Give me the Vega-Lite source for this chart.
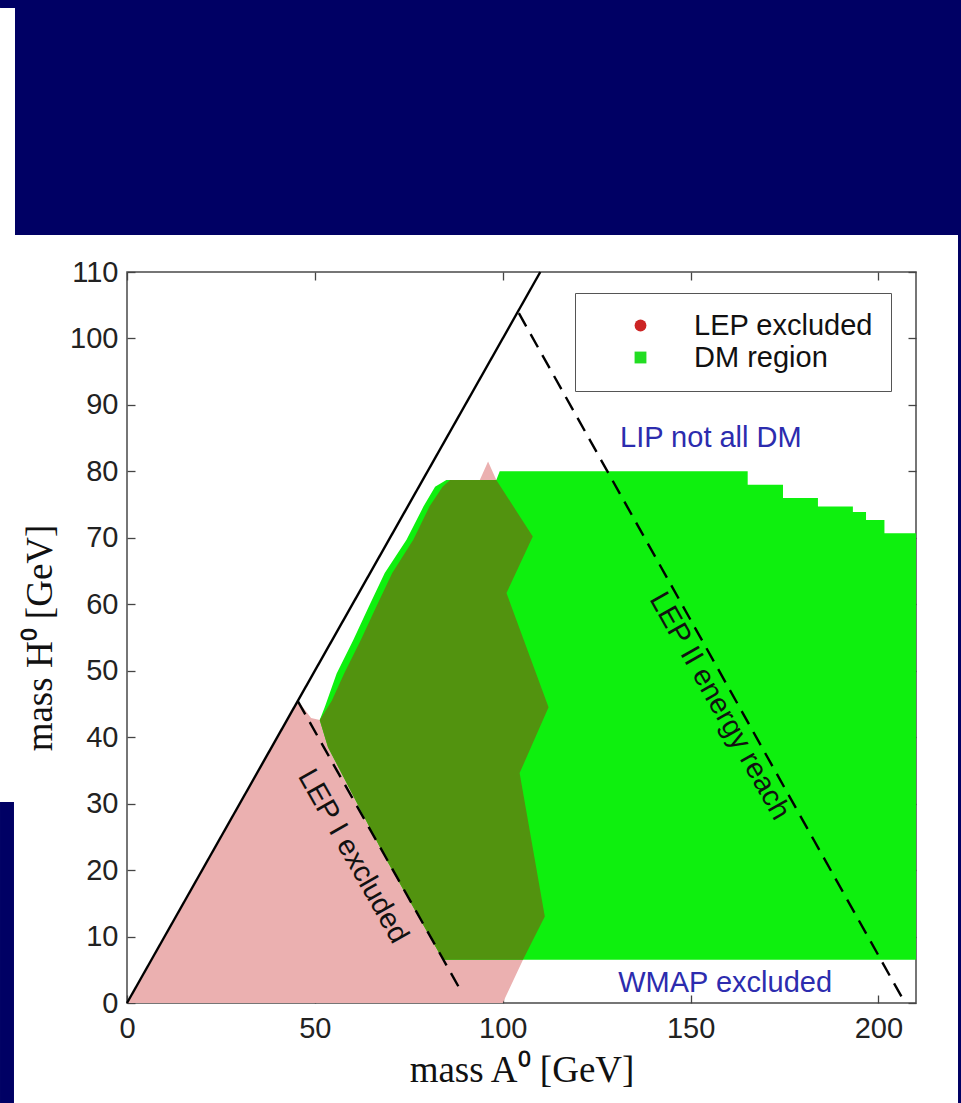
{
  "$schema": "https://vega.github.io/schema/vega-lite/v6.json",
  "width": 789,
  "height": 731,
  "autosize": {"type": "none"},
  "padding": {"left": 127, "top": 272, "right": 45, "bottom": 100},
  "background": "white",
  "config": {
    "view": {"stroke": "#4a4a4a", "strokeWidth": 1.5},
    "font": "Liberation Sans",
    "axis": {
      "domain": false,
      "grid": false,
      "tickSize": -8,
      "tickColor": "#444444",
      "tickWidth": 1.3,
      "labelFlush": false,
      "labelFont": "Liberation Sans",
      "labelFontSize": 29,
      "labelColor": "#222222",
      "titleFont": "Liberation Serif",
      "titleFontSize": 37,
      "titleFontWeight": "normal",
      "titleColor": "#111111"
    }
  },
  "datasets": {
    "frame": [
      {"x1": -29.81, "x2": 221.98, "y1": 115.57, "y2": 150.93},
      {"x1": -33.8, "x2": -29.81, "y1": 149.73, "y2": 150.93},
      {"x1": 221.18, "x2": 221.98, "y1": -15.05, "y2": 115.57},
      {"x1": -33.8, "x2": -30.08, "y1": -15.05, "y2": 30.25}
    ],
    "lep": [
      {"i": 1, "x": 0, "y": 0},
      {"i": 2, "x": 45.5, "y": 45.5},
      {"i": 3, "x": 49, "y": 42.9},
      {"i": 4, "x": 51.3, "y": 42.6},
      {"i": 5, "x": 54.5, "y": 45.5},
      {"i": 6, "x": 57.8, "y": 49.6},
      {"i": 7, "x": 62.2, "y": 54.6},
      {"i": 8, "x": 66.4, "y": 59.7},
      {"i": 9, "x": 70.6, "y": 64.7},
      {"i": 10, "x": 76.2, "y": 69.7},
      {"i": 11, "x": 80.5, "y": 74.7},
      {"i": 12, "x": 84, "y": 77.7},
      {"i": 13, "x": 86, "y": 78.7},
      {"i": 14, "x": 93.9, "y": 78.7},
      {"i": 15, "x": 96.1, "y": 81.5},
      {"i": 16, "x": 98.3, "y": 78.7},
      {"i": 17, "x": 108, "y": 70.2},
      {"i": 18, "x": 101, "y": 61.7},
      {"i": 19, "x": 112.2, "y": 44.5},
      {"i": 20, "x": 104.5, "y": 34.6},
      {"i": 21, "x": 111.2, "y": 13},
      {"i": 22, "x": 105.4, "y": 6.5},
      {"i": 23, "x": 100, "y": 0}
    ],
    "dm": [
      {"i": 1, "x": 84.1, "y": 6.5},
      {"i": 2, "x": 69.1, "y": 21.5},
      {"i": 3, "x": 53.5, "y": 38.5},
      {"i": 4, "x": 51.3, "y": 42.6},
      {"i": 5, "x": 52.7, "y": 44.6},
      {"i": 6, "x": 55.8, "y": 49.6},
      {"i": 7, "x": 60.2, "y": 54.6},
      {"i": 8, "x": 64.4, "y": 59.7},
      {"i": 9, "x": 68.6, "y": 64.7},
      {"i": 10, "x": 74.4, "y": 69.7},
      {"i": 11, "x": 78.9, "y": 74.7},
      {"i": 12, "x": 82, "y": 77.7},
      {"i": 13, "x": 85, "y": 78.7},
      {"i": 14, "x": 98.3, "y": 78.7},
      {"i": 15, "x": 99.2, "y": 80},
      {"i": 16, "x": 165.2, "y": 80},
      {"i": 17, "x": 165.2, "y": 78},
      {"i": 18, "x": 174.6, "y": 78},
      {"i": 19, "x": 174.6, "y": 76},
      {"i": 20, "x": 183.9, "y": 76},
      {"i": 21, "x": 183.9, "y": 74.7},
      {"i": 22, "x": 193.2, "y": 74.7},
      {"i": 23, "x": 193.2, "y": 73.9},
      {"i": 24, "x": 196.7, "y": 73.9},
      {"i": 25, "x": 196.7, "y": 72.7},
      {"i": 26, "x": 201.6, "y": 72.7},
      {"i": 27, "x": 201.6, "y": 70.7},
      {"i": 28, "x": 210, "y": 70.7},
      {"i": 29, "x": 210, "y": 6.5}
    ],
    "overlap": [
      {"i": 1, "x": 84.1, "y": 6.5},
      {"i": 2, "x": 69.1, "y": 21.5},
      {"i": 3, "x": 53.5, "y": 38.5},
      {"i": 4, "x": 51.3, "y": 42.6},
      {"i": 5, "x": 54.5, "y": 45.5},
      {"i": 6, "x": 57.8, "y": 49.6},
      {"i": 7, "x": 62.2, "y": 54.6},
      {"i": 8, "x": 66.4, "y": 59.7},
      {"i": 9, "x": 70.6, "y": 64.7},
      {"i": 10, "x": 76.2, "y": 69.7},
      {"i": 11, "x": 80.5, "y": 74.7},
      {"i": 12, "x": 84, "y": 77.7},
      {"i": 13, "x": 86, "y": 78.7},
      {"i": 14, "x": 98.3, "y": 78.7},
      {"i": 15, "x": 108, "y": 70.2},
      {"i": 16, "x": 101, "y": 61.7},
      {"i": 17, "x": 112.2, "y": 44.5},
      {"i": 18, "x": 104.5, "y": 34.6},
      {"i": 19, "x": 111.2, "y": 13},
      {"i": 20, "x": 105.4, "y": 6.5}
    ],
    "solid": [
      {"x": 0, "y": 0},
      {"x": 110, "y": 110}
    ],
    "dashed": [
      {"name": "LEP I", "x": 45.5, "y": 45.4},
      {"name": "LEP I", "x": 88.6, "y": 2.1},
      {"name": "LEP II", "x": 104.3, "y": 103.8},
      {"name": "LEP II", "x": 206.4, "y": 0.7}
    ],
    "bluetext": [
      {"t": "LIP not all DM", "x": 155.4, "y": 85.0},
      {"t": "WMAP excluded", "x": 159.2, "y": 3.0}
    ],
    "rottext": [
      {"t": "LEP I excluded", "x": 60.2, "y": 22.1},
      {"t": "LEP II energy reach", "x": 157.8, "y": 44.7}
    ],
    "legend": [
      {"region": "LEP excluded"},
      {"region": "DM region"}
    ]
  },
  "layer": [
    {
      "data": {"name": "lep"},
      "mark": {"type": "line", "fill": "#ebb0b0", "strokeOpacity": 0, "interpolate": "linear"},
      "encoding": {
        "x": {"field": "x", "type": "quantitative", "scale": {"domain": [0, 210], "nice": false, "zero": false},
          "axis": {"orient": "bottom", "values": [0, 50, 100, 150, 200], "title": "mass A⁰ [GeV]", "labelPadding": 19, "titlePadding": 9}},
        "y": {"field": "y", "type": "quantitative", "scale": {"domain": [0, 110], "nice": false, "zero": false},
          "axis": {"orient": "left", "values": [0, 10, 20, 30, 40, 50, 60, 70, 80, 90, 100, 110], "title": "mass H⁰ [GeV]", "labelPadding": 17, "titlePadding": 10}},
        "order": {"field": "i", "type": "quantitative"}
      }
    },
    {
      "data": {"name": "dm"},
      "mark": {"type": "line", "fill": "#0ef00e", "strokeOpacity": 0},
      "encoding": {
        "x": {"field": "x", "type": "quantitative", "axis": {"orient": "top", "values": [0, 50, 100, 150, 200], "labels": false, "title": null}},
        "y": {"field": "y", "type": "quantitative", "axis": {"orient": "right", "values": [0, 10, 20, 30, 40, 50, 60, 70, 80, 90, 100, 110], "labels": false, "title": null}},
        "order": {"field": "i", "type": "quantitative"}
      }
    },
    {
      "data": {"name": "overlap"},
      "mark": {"type": "line", "fill": "#52930f", "strokeOpacity": 0},
      "encoding": {
        "x": {"field": "x", "type": "quantitative", "axis": null},
        "y": {"field": "y", "type": "quantitative", "axis": null},
        "order": {"field": "i", "type": "quantitative"}
      }
    },
    {
      "data": {"name": "solid"},
      "mark": {"type": "line", "color": "#000000", "strokeWidth": 2.4},
      "encoding": {
        "x": {"field": "x", "type": "quantitative", "axis": null},
        "y": {"field": "y", "type": "quantitative", "axis": null}
      }
    },
    {
      "data": {"name": "dashed"},
      "mark": {"type": "line", "color": "#000000", "strokeWidth": 2.4, "strokeDash": [15, 9]},
      "encoding": {
        "x": {"field": "x", "type": "quantitative", "axis": null},
        "y": {"field": "y", "type": "quantitative", "axis": null},
        "detail": {"field": "name"}
      }
    },
    {
      "data": {"name": "bluetext"},
      "mark": {"type": "text", "font": "Liberation Sans", "fontSize": 29, "color": "#2c2cae", "align": "center", "baseline": "middle"},
      "encoding": {
        "x": {"field": "x", "type": "quantitative", "axis": null},
        "y": {"field": "y", "type": "quantitative", "axis": null},
        "text": {"field": "t"}
      }
    },
    {
      "data": {"name": "rottext"},
      "mark": {"type": "text", "font": "Liberation Sans", "fontSize": 29, "color": "#111111", "align": "center", "baseline": "middle", "angle": 60.5},
      "encoding": {
        "x": {"field": "x", "type": "quantitative", "axis": null},
        "y": {"field": "y", "type": "quantitative", "axis": null},
        "text": {"field": "t"}
      }
    },
    {
      "data": {"name": "legend"},
      "mark": {"type": "point", "filled": true, "opacity": 0},
      "encoding": {
        "color": {"field": "region", "type": "nominal",
          "scale": {"domain": ["LEP excluded", "DM region"], "range": ["#cc2424", "#22dd22"]},
          "legend": {"title": null, "orient": "none", "legendX": 448, "legendY": 21, "padding": 18, "symbolOffset": 33, "labelOffset": 39,
            "labelFontSize": 29, "labelFont": "Liberation Sans", "labelColor": "#111111", "labelLimit": 500, "symbolSize": 140, "symbolOpacity": 1,
            "rowPadding": 2, "strokeColor": "#555555", "fillColor": "#ffffff", "symbolStrokeWidth": 0,
            "encode": {"symbols": {"update": {"opacity": {"value": 1}, "fillOpacity": {"value": 1}}}}}},
        "shape": {"field": "region", "type": "nominal",
          "scale": {"domain": ["LEP excluded", "DM region"], "range": ["circle", "square"]}}
      }
    },
    {
      "data": {"name": "frame"},
      "mark": {"type": "rect", "color": "#000064", "clip": false},
      "encoding": {
        "x": {"field": "x1", "type": "quantitative", "axis": null},
        "x2": {"field": "x2"},
        "y": {"field": "y1", "type": "quantitative", "axis": null},
        "y2": {"field": "y2"}
      }
    }
  ],
  "resolve": {"axis": {"x": "independent", "y": "independent"}}
}
